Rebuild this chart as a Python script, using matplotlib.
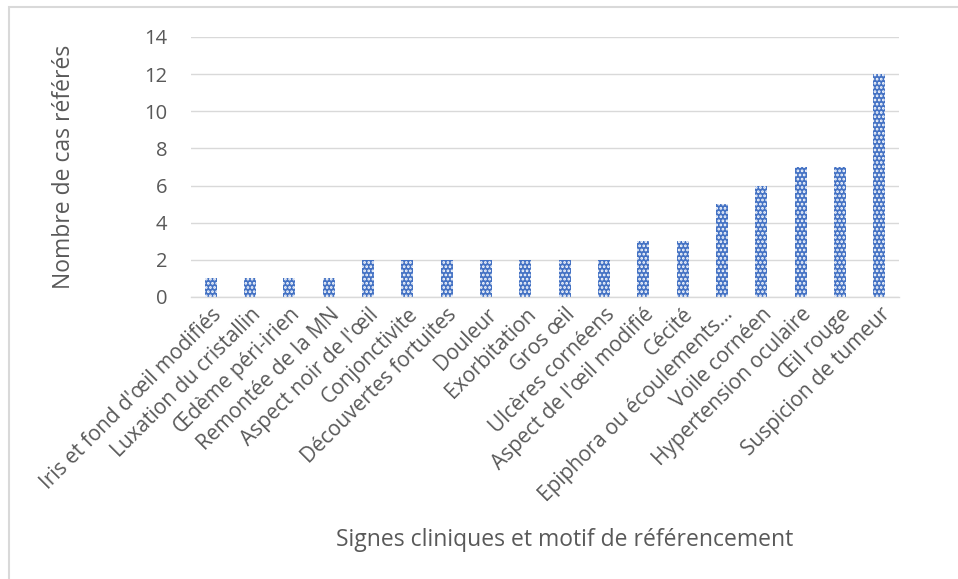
import matplotlib.pyplot as plt
from matplotlib.patches import Rectangle

# -----------------------------
# Data
# -----------------------------

signes = [
    "Iris et fond d'œil modifiés",
    "Luxation du cristallin",
    "Œdème péri-irien",
    "Remontée de la MN",
    "Aspect noir de l'œil",
    "Conjonctivite",
    "Découvertes fortuites",
    "Douleur",
    "Exorbitation",
    "Gros œil",
    "Ulcères cornéens",
    "Aspect de l'œil modifié",
    "Cécité",
    "Epiphora ou écoulements…",
    "Voile cornéen",
    "Hypertension oculaire",
    "Œil rouge",
    "Suspicion de tumeur",
]
nb_cas = [1, 1, 1, 1, 2, 2, 2, 2, 2, 2, 2, 3, 3, 5, 6, 7, 7, 12]
y_ticks = [0, 2, 4, 6, 8, 10, 12, 14]

# -----------------------------
# Style
# -----------------------------

plt.rcParams["font.family"] = ["Open Sans", "DejaVu Sans"]
plt.rcParams["hatch.color"] = "white"
plt.rcParams["hatch.linewidth"] = 1.3

text_color = "#595959"
bar_color = "#4472C4"

fig = plt.figure(figsize=(9.58, 5.79), dpi=100)
ax = fig.add_axes([191 / 958, 1 - 297 / 579, 708 / 958, 260 / 579])

# -----------------------------
# Bars
# -----------------------------

x = range(len(signes))
ax.bar(x, nb_cas, width=0.31, color=bar_color, linewidth=0, zorder=2)
ax.bar(x, nb_cas, width=0.31, color="none", edgecolor="white",
       hatch="....", linewidth=0, zorder=3)

ax.set_xlim(-0.5, len(signes) - 0.5)
ax.set_ylim(0, 14)
ax.set_yticks(y_ticks)
ax.set_xticks(list(x))
ax.set_xticklabels(signes, rotation=45, ha="right", va="top",
                   rotation_mode="anchor", fontsize=15, color=text_color)
ax.tick_params(axis="y", labelsize=14.5, colors=text_color, length=0, pad=17)
ax.tick_params(axis="x", length=0, pad=5)

ax.grid(axis="y", color="#D9D9D9", linewidth=1, zorder=0)
ax.set_axisbelow(True)
for side in ["top", "right", "left"]:
    ax.spines[side].set_visible(False)
ax.spines["bottom"].set_color("#D9D9D9")
ax.spines["bottom"].set_linewidth(1)

ax.set_ylabel("Nombre de cas référés", fontsize=16.5, color=text_color,
              va="center")
ax.yaxis.set_label_coords((64 - 191) / 708, 0.5)
fig.text(565 / 958, 1 - 540 / 579, "Signes cliniques et motif de référencement",
         fontsize=16.5, color=text_color, ha="center", va="center")

# chart border
fig.patches.append(Rectangle((9 / 958, -10 / 579), 960 / 958, 582 / 579,
                             transform=fig.transFigure, fill=False,
                             edgecolor="#D9D9D9", linewidth=1.5))

fig.savefig("out.png", dpi=100)
